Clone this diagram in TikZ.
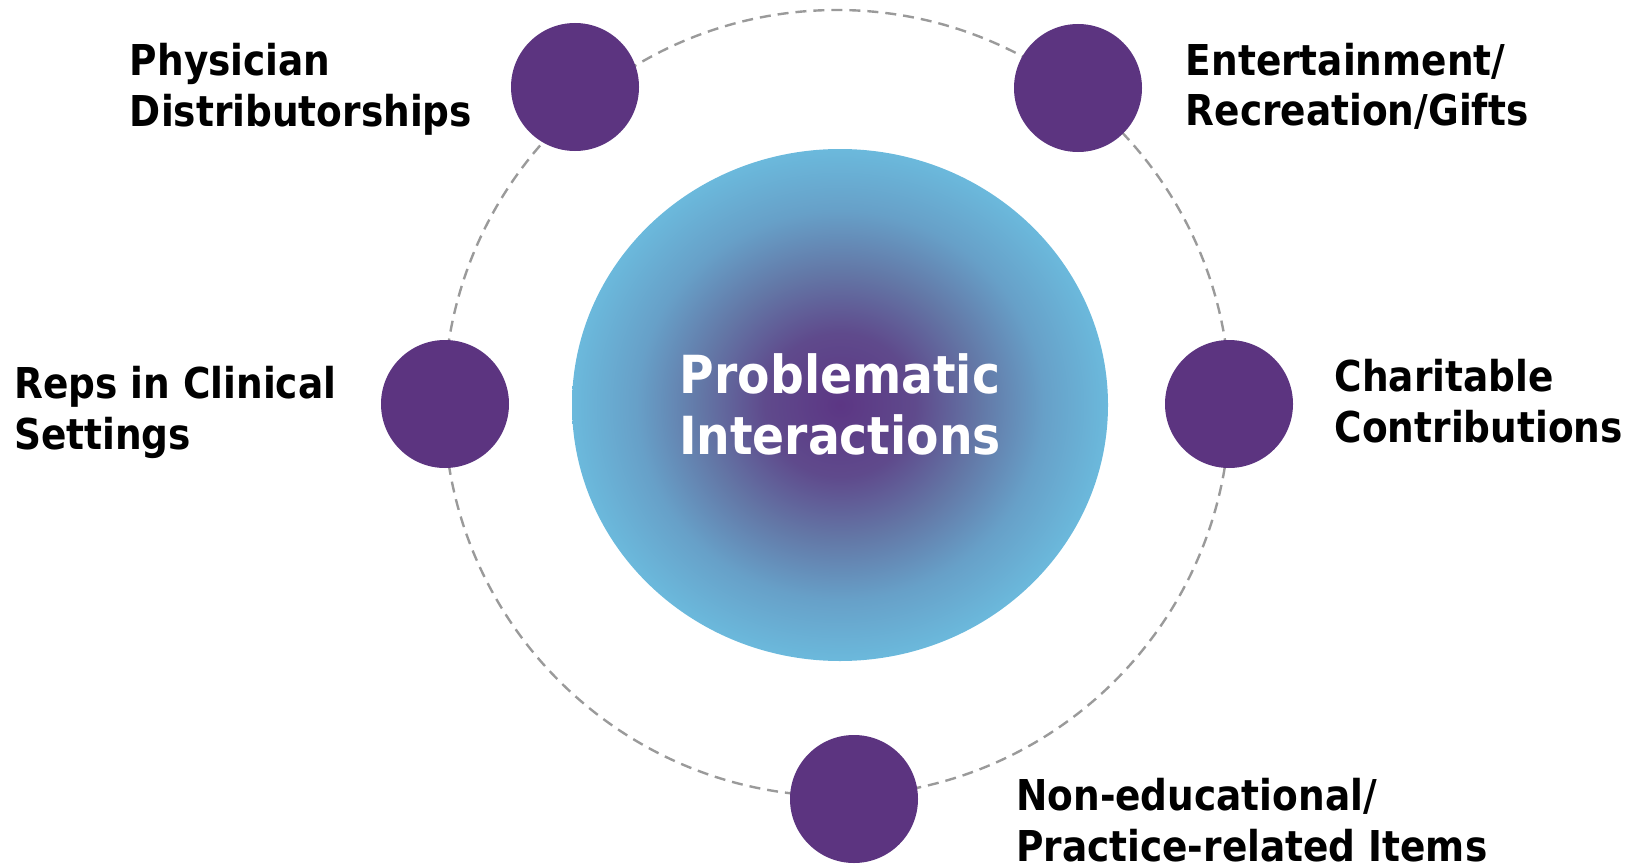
\documentclass[tikz,border=0pt]{standalone}
\usepackage{fontspec}
\setmainfont{DejaVu Sans}
\newfontfamily\labelfont[FakeStretch=0.98]{DejaVu Sans Condensed Bold}
\newfontfamily\corefont{DejaVu Sans Condensed Bold}
\usetikzlibrary{shapes.geometric}

\definecolor{dotpurple}{HTML}{5C3480}
\definecolor{ringgray}{HTML}{9A9A9A}
\definecolor{coreA}{HTML}{5C3684}
\definecolor{coreB}{HTML}{5F4A8C}
\definecolor{coreC}{HTML}{6377A6}
\definecolor{coreD}{HTML}{67A0C8}
\definecolor{coreE}{HTML}{6BB9DC}

\pgfdeclareradialshading{coreglow}{\pgfpoint{0bp}{0bp}}{%
  color(0bp)=(coreA);
  color(7bp)=(coreB);
  color(13bp)=(coreC);
  color(19bp)=(coreD);
  color(25bp)=(coreE);
  color(50bp)=(coreE)}

\tikzset{
  ring/.style={draw=ringgray, line width=2.4pt, dash pattern=on 11pt off 7pt},
  dot/.style={circle, fill=dotpurple, minimum size=128pt, inner sep=0pt},
  core/.style={ellipse, shading=coreglow, minimum width=536pt, minimum height=512pt, inner sep=0pt},
  caption/.style={anchor=base west, inner sep=0pt, text=black,
    font=\labelfont\fontsize{42.5}{51}\selectfont},
  coretext/.style={anchor=base, inner sep=0pt, text=white,
    font=\corefont\fontsize{52.5}{61}\selectfont}
}

\begin{document}
\begin{tikzpicture}[x=1pt, y=-1pt]
  \useasboundingbox (0,0) rectangle (1639,867);

  % dashed orbit behind everything
  \node[circle, ring, minimum size=786pt, inner sep=0pt] (orbit) at (837,403) {};

  % central shaded blob
  \node[core] (core) at (840,405) {};
  \node[coretext] (coretitle) at (840,393)
    {\begin{tabular}[t]{@{}c@{}}Problematic\\Interactions\end{tabular}};

  % satellite dots
  \node[dot] (d1) at (575,87) {};
  \node[dot] (d2) at (1078,88) {};
  \node[dot] (d3) at (445,404) {};
  \node[dot] (d4) at (1229,404) {};
  \node[dot] (d5) at (854,799) {};

  % captions
  \node[caption] (t1) at (129.7,76)
    {\begin{tabular}[t]{@{}l@{}}Physician\\Distributorships\end{tabular}};
  \node[caption] (t2) at (1185.6,75)
    {\begin{tabular}[t]{@{}l@{}}Entertainment/\\Recreation/Gifts\end{tabular}};
  \node[caption] (t3) at (14,398)
    {\begin{tabular}[t]{@{}l@{}}Reps in Clinical\\Settings\end{tabular}};
  \node[caption] (t4) at (1334.5,391)
    {\begin{tabular}[t]{@{}l@{}}Charitable\\Contributions\end{tabular}};
  \node[caption] (t5) at (1016,810)
    {\begin{tabular}[t]{@{}l@{}}Non-educational/\\Practice-related Items\end{tabular}};
\end{tikzpicture}
\end{document}
